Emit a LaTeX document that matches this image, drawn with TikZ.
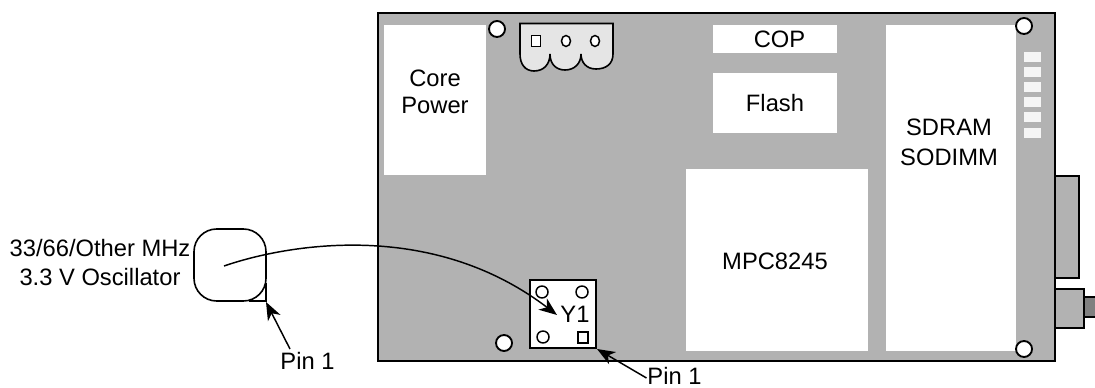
\documentclass[tikz,border=0pt]{standalone}
\usepackage{fontspec}
\setmainfont{Liberation Sans}
\usetikzlibrary{arrows.meta}
\definecolor{board}{HTML}{B2B2B2}
\definecolor{lt}{HTML}{E5E5E5}
\definecolor{led}{HTML}{F5F5F5}
\definecolor{stub}{HTML}{808080}
\begin{document}
\begin{tikzpicture}[x=0.75pt,y=-0.75pt,
  line/.style={draw=black,line width=1.6pt},
  blank/.style={fill=white,draw=none},
  hole/.style={fill=white,draw=black,line width=1.4pt},
  pin/.style={fill=white,draw=black,line width=1.1pt},
  lbl/.style={font=\fontsize{17.8}{20}\selectfont,align=center,inner sep=0pt,anchor=base},
  arr/.style={draw=black,line width=1.1pt,-{Stealth[length=13.5pt,width=10.5pt,inset=4pt]}}]
\useasboundingbox (0,0) rectangle (1095,388);
% connectors on the right edge
\filldraw[fill=stub,line width=1.6pt] (1084,297) rectangle (1097,317);
\draw[line,fill=board] (1055,176) rectangle (1079,278);
\draw[line,fill=board] (1055,289) rectangle (1084,328);
% board
\draw[line,fill=board] (378,13) rectangle (1055,361);
% white blocks
\fill[blank] (384,25) rectangle (486,175);
\fill[blank] (713,25) rectangle (837,53);
\fill[blank] (713,73) rectangle (837,133);
\fill[blank] (886,25) rectangle (1016,351);
\fill[blank] (686,169) rectangle (868,351);
% LEDs
\foreach \yy in {52,67,82,97,112,128}
  \fill[led] (1024,\yy) rectangle (1041,\yy+10);
% holes
\draw[hole] (497,29) circle[radius=8];
\draw[hole] (1024,26) circle[radius=8];
\draw[hole] (1024,349) circle[radius=8];
\draw[hole] (504,343) circle[radius=8];
% power connector
\draw[line width=1.2pt,fill=lt] (520,23.5) -- (613,23.5) -- (613,54)
  .. controls (613,64) and (606,69) .. (596,69)
  .. controls (586,69) and (581,62) .. (581,54)
  .. controls (581,64) and (574,70) .. (565,70)
  .. controls (556,70) and (550,64) .. (550,54)
  .. controls (550,64) and (544,71) .. (534,71)
  .. controls (525,71) and (520,64) .. (520,54) -- cycle;
\draw[pin] (531.5,35.5) rectangle (540.5,46.5);
\draw[pin] (566,41) ellipse[x radius=4.5,y radius=5.5];
\draw[pin] (595,41) ellipse[x radius=4.5,y radius=5.5];
% Y1 socket
\node[draw=black,line width=1.2pt,fill=white,minimum width=49.5pt,minimum height=51pt,inner sep=0pt] (y1) at (563,314) {};
\draw[pin] (542,292) circle[radius=6];
\draw[pin] (582,292) circle[radius=6];
\draw[pin] (543,337) circle[radius=6];
\draw[pin] (578,332) rectangle (588,343);
\coordinate (y1tip) at (557,315);
\coordinate (y1corner) at (597,349);
% oscillator
\node[draw=black,line width=1.2pt,fill=white,rounded corners=17pt,minimum width=54pt,minimum height=54pt,inner sep=0pt] (osc) at (230,265) {};
\draw[line width=1.2pt] (266,283) -- (266,301) -- (249,301);
\coordinate (oscstart) at (224,266);
\coordinate (osccorner) at (266,302);
\coordinate (pinatail) at (290,349);
\coordinate (pinbtail) at (646.5,378);
% labels
\node[lbl] (core) at (435,114) {Core\\[0.9pt]Power};
\node[lbl] (cop) at (779.5,48) {COP};
\node[lbl] (flash) at (775,112) {Flash};
\node[lbl] (sdram) at (949,166) {SDRAM\\[2.5pt]SODIMM};
\node[lbl] (mpc) at (775,269) {MPC8245};
\node[lbl] (y1t) at (575,322.7) {Y1};
\node[lbl] (osct) at (100,285) {33/66/Other MHz\\[1pt]3.3 V Oscillator};
\node[lbl] (pina) at (307.5,369) {Pin 1};
\node[lbl] (pinb) at (674.5,384) {Pin 1};
% arrows
\draw[arr] (oscstart) .. controls (285,245) and (430,218) .. (y1tip);
\draw[arr] (pinatail) -- (osccorner);
\draw[arr] (pinbtail) -- (y1corner);
\end{tikzpicture}
\end{document}
